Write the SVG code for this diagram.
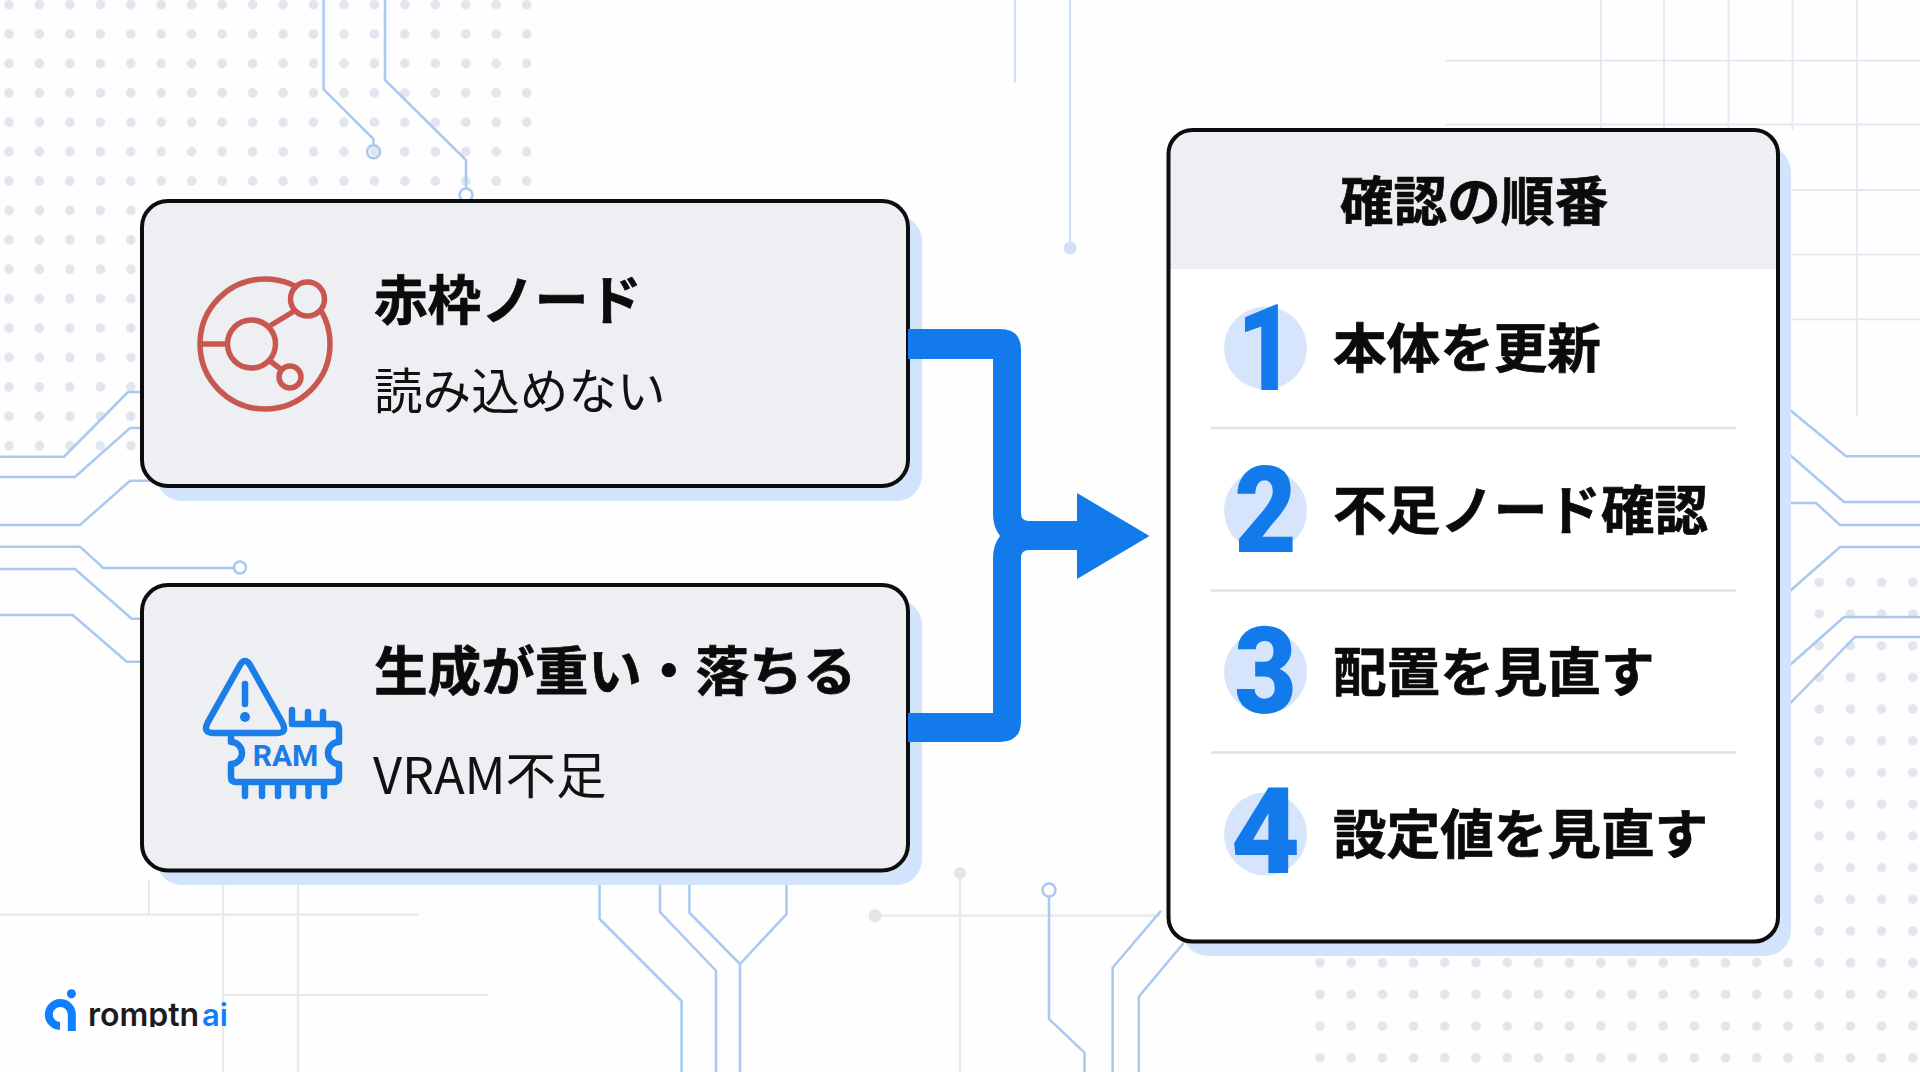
<svg xmlns="http://www.w3.org/2000/svg" width="1920" height="1072" viewBox="0 0 1920 1072">
<style>
.cir{fill:none;stroke:#a9c9f0;stroke-width:2.5}
.gr{fill:none;stroke:#e6e8f0;stroke-width:2.2}
.gb{fill:none;stroke:#e2e8f2;stroke-width:1.8}
.card{fill:#eeeff3;stroke:#0d0d0d;stroke-width:4}
.sh{fill:#d2e3fc}
.h{font-family:"Noto Sans CJK JP","Noto Sans",sans-serif;font-weight:700;font-size:53.6px;fill:#0b0b0b;stroke:#0b0b0b;stroke-width:.7}
.s{font-family:"Noto Sans CJK JP","Noto Sans",sans-serif;font-weight:400;font-size:48.6px;fill:#111}
.num{font-family:"Roboto","Liberation Sans",sans-serif;font-weight:900;font-size:120px;fill:#127aeb;text-anchor:middle}
.disc{fill:#d6e5fb}
.div{stroke:#dde3ec;stroke-width:2.5}
.red{fill:none;stroke:#c8584f;stroke-width:5.5}
.blu{fill:none;stroke:#1a7de8;stroke-width:6.5;stroke-linejoin:round;stroke-linecap:round}
</style>
<defs>
<pattern id="dotsA" patternUnits="userSpaceOnUse" x="-6.2" y="-10" width="30.45" height="29.4"><circle cx="15.2" cy="14.7" r="4.8" fill="#e1e5ee"/></pattern>
<pattern id="dotsB" patternUnits="userSpaceOnUse" x="1304.4" y="566.45" width="31.2" height="31.7"><circle cx="15.6" cy="15.85" r="4.8" fill="#e1e5ee"/></pattern>
<clipPath id="panelClip"><rect x="1168.5" y="130" width="609.5" height="811.5" rx="24"/></clipPath>
<clipPath id="logoClip"><rect x="80" y="990" width="160" height="37"/></clipPath>
</defs>
<rect width="1920" height="1072" fill="#fefefe"/>
<g id="background">
<rect x="-6.2" y="-10" width="548" height="470.4" fill="url(#dotsA)"/>
<rect x="1304.4" y="946.2" width="624" height="126" fill="url(#dotsB)"/>
<rect x="1803.6" y="566.45" width="125" height="380" fill="url(#dotsB)"/>
<path class="gr" d="M149 880V914.7M223 880V1072M298 880V1072M0 914.7H418M223 995H487.5"/>
<path class="gr" d="M875 915.7H1160M960 873V1072"/>
<circle cx="875" cy="915.7" r="6.5" fill="#e3e5ea"/>
<circle cx="960" cy="873" r="6" fill="#e3e5ea"/>
<path class="gb" d="M1601 0V130M1664 0V130M1728.5 0V130M1792.5 0V130M1856.7 0V416M1445 60.7H1920M1445 124.5H1920M1792 190H1920M1792 254.7H1920M1792 319.3H1920"/>
<path d="M1015 0V82.7M1070 0V245" fill="none" stroke="#cfe0f5" stroke-width="2.2"/>
<circle cx="1070" cy="248" r="6.5" fill="#cfe0f7"/>
<path class="cir" d="M323.6 0V89.3L373.5 139V145M385 0V80L466 160V189"/>
<circle class="cir" cx="373.6" cy="151.7" r="6.5"/>
<circle class="cir" cx="466" cy="195" r="6.5"/>
<path class="cir" d="M0 456.7H64L128 392H145M0 477H75L130 428H145M0 525H80L130 480.7H150M0 546.7H80L103.3 568H234M0 569H75L131.7 618.7H145M0 615H72.7L126.7 661.7H145"/>
<circle class="cir" cx="240" cy="567.5" r="6"/>
<path class="cir" d="M599.6 880V919L681.6 1001V1072M660 880V912L716 970.7V1072M689.4 880V912.7L740 964V1072M786.5 880V914L740 964"/>
<circle class="cir" cx="1049" cy="890" r="6.5"/>
<path class="cir" d="M1049 896.5V1019L1084.5 1052.7V1072M1161 910.7L1112.6 967.7V1072M1183.7 943L1138.8 996.7V1072"/>
<path class="cir" d="M1790 410L1846 456.3H1920M1790 455L1844 502H1920M1790 503H1816L1840 525H1920M1790 591L1840 547H1920M1790 665L1844 617H1920M1790 703.5L1855 637H1920"/>
</g>
<g id="node-red">
<rect class="sh" x="156" y="215" width="766" height="286" rx="26"/>
<rect class="card" x="142" y="201" width="766" height="285" rx="26"/>
<g id="icon-red">
<circle class="red" cx="265" cy="344" r="65"/>
<path class="red" d="M201 344H228M268 327L296 310M270 361L282 370"/>
<circle class="red" cx="251.5" cy="344" r="24"/>
<circle cx="307.5" cy="299" r="17" fill="#eeeff3" stroke="#c8584f" stroke-width="5.5"/>
<circle cx="290" cy="377" r="11" fill="#eeeff3" stroke="#c8584f" stroke-width="5.5"/>
</g>
<text class="h" x="374" y="320">赤枠ノード</text>
<text class="s" x="374" y="409">読み込めない</text>
</g>
<g id="node-vram">
<rect class="sh" x="156" y="599" width="766" height="286" rx="26"/>
<rect class="card" x="142" y="585" width="766" height="285.5" rx="26"/>
<g id="icon-vram">
<path class="blu" d="M240 665Q245 657 250 665L282 722Q288 733 277 733H214Q202 733 208 722Z"/>
<path class="blu" d="M245 684V704"/>
<circle cx="245" cy="717" r="5" fill="#1a7de8"/>
<path class="blu" d="M292 724H334Q339 724 339 729V742A11 11 0 0 0 339 764V777Q339 782 334 782H236Q231 782 231 777V764A11 11 0 0 0 231 742V735M292 710V724M308 712V724M323 712V724M245 785V796M262 785V796M278 785V796M293 785V796M308.500 785V796M324 785V796"/>
<text x="285.500" y="766" font-family="Roboto,'Liberation Sans',sans-serif" font-weight="700" font-size="30" fill="#1a7de8" text-anchor="middle">RAM</text>
</g>
<text class="h" x="374" y="691">生成が重い・落ちる</text>
<text class="s" x="373" y="794" style="font-size:50.5px">VRAM不足</text>
</g>
<g id="connectors">
<path fill="#127aeb" d="M908 329H1000Q1021 329 1021 350V513Q1021 521 1029 521H1077V493L1149.500 536L1077 579V550H1029Q1021 550 1021 558V721Q1021 742 1000 742H908V713H993V558Q993 545 1000 536Q993 527 993 514V359H908Z"/>
</g>
<g id="panel">
<rect class="sh" x="1182" y="146" width="609" height="810" rx="26"/>
<rect x="1168.500" y="130" width="609.500" height="811.500" rx="24" fill="#fff"/>
<rect x="1168.500" y="130" width="609.500" height="139" fill="#eeeff3" clip-path="url(#panelClip)"/>
<rect x="1168.500" y="130" width="609.500" height="811.500" rx="24" fill="none" stroke="#0d0d0d" stroke-width="4"/>
<text class="h" x="1474" y="221" text-anchor="middle">確認の順番</text>
<line class="div" x1="1211" y1="428" x2="1736" y2="428"/>
<line class="div" x1="1211" y1="590.500" x2="1736" y2="590.500"/>
<line class="div" x1="1211" y1="752.500" x2="1736" y2="752.500"/>
</g>
<g id="step-1">
<circle class="disc" cx="1265.500" cy="348" r="41.500"/>
<text class="num" transform="translate(1266 390) scale(.84 1)">1</text>
<text class="h" x="1333" y="368">本体を更新</text>
</g>
<g id="step-2">
<circle class="disc" cx="1265.500" cy="510.500" r="41.500"/>
<text class="num" transform="translate(1265.500 552) scale(.9 1)">2</text>
<text class="h" x="1333" y="530">不足ノード確認</text>
</g>
<g id="step-3">
<circle class="disc" cx="1265.500" cy="672" r="41.500"/>
<text class="num" transform="translate(1265.500 713) scale(.9 1)">3</text>
<text class="h" x="1333" y="692">配置を見直す</text>
</g>
<g id="step-4">
<circle class="disc" cx="1265.500" cy="834" r="41.500"/>
<text class="num" transform="translate(1265.500 873)">4</text>
<text class="h" x="1333" y="854">設定値を見直す</text>
</g>
<g id="logo">
<circle cx="71.400" cy="993.700" r="4.500" fill="#0f7fff"/>
<path d="M71.800 1031V1014A11.500 11.500 0 1 0 60 1026" fill="none" stroke="#0f7fff" stroke-width="8"/>
<text x="88" y="1026" clip-path="url(#logoClip)" font-family="Inter,'Liberation Sans',sans-serif" font-weight="600" font-size="32" fill="#1c1c1c">romptn</text>
<text x="202" y="1026" font-family="Inter,'Liberation Sans',sans-serif" font-weight="600" font-size="31" fill="#0f7fff">ai</text>
</g>
</svg>
